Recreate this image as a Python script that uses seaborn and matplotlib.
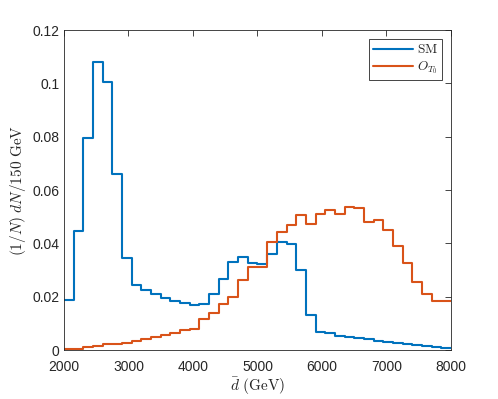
import numpy as np
import pandas as pd
import seaborn as sns
import matplotlib.pyplot as plt

# bin edges (150 GeV bins from 2000 to 8000 GeV)
bin_edges = list(range(2000, 8001, 150))

# normalised counts per bin
sm_values = [0.0188, 0.0448, 0.0796, 0.1080, 0.1005, 0.0659, 0.0346, 0.0244,
             0.0224, 0.0210, 0.0196, 0.0184, 0.0175, 0.0168, 0.0172, 0.0211,
             0.0265, 0.0330, 0.0350, 0.0328, 0.0321, 0.0360, 0.0404, 0.0399,
             0.0301, 0.0132, 0.0067, 0.0062, 0.0054, 0.0049, 0.0044, 0.0040,
             0.0035, 0.0031, 0.0025, 0.0021, 0.0018, 0.0014, 0.0010, 0.0008]
ot0_values = [0.0002, 0.0005, 0.0010, 0.0015, 0.0024, 0.0023, 0.0028, 0.0035,
              0.0040, 0.0050, 0.0056, 0.0065, 0.0076, 0.0079, 0.0115, 0.0138,
              0.0173, 0.0198, 0.0263, 0.0313, 0.0313, 0.0404, 0.0443, 0.0470,
              0.0505, 0.0474, 0.0509, 0.0526, 0.0509, 0.0537, 0.0531, 0.0479,
              0.0488, 0.0449, 0.0390, 0.0328, 0.0256, 0.0210, 0.0185, 0.0185]
series_names = [r'$\mathrm{SM}$', '$O_{T_0}$']
series_colors = ['#0072BD', '#D95319']
x_ticks = [2000, 3000, 4000, 5000, 6000, 7000, 8000]
y_ticks = [0, 0.02, 0.04, 0.06, 0.08, 0.1, 0.12]
y_tick_labels = ['0', '0.02', '0.04', '0.06', '0.08', '0.1', '0.12']

# build long table
centers = [(a + b) / 2 for a, b in zip(bin_edges[:-1], bin_edges[1:])]
df = pd.DataFrame({
    'x': centers * 2,
    'w': sm_values + ot0_values,
    'series': [series_names[0]] * len(centers) + [series_names[1]] * len(centers),
})

sns.set_style('white')
plt.rcParams['font.family'] = ['Liberation Sans', 'DejaVu Sans']
plt.rcParams['mathtext.fontset'] = 'cm'

fig = plt.figure(figsize=(4.98, 3.99), dpi=100)
ax = fig.add_axes([0.1285, 0.1228, 0.7771, 0.802])

for name, color in zip(series_names, series_colors):
    sub = df[df['series'] == name]
    sns.histplot(data=sub, x='x', weights='w', bins=bin_edges,
                 element='step', fill=False, color=color, linewidth=1.5,
                 label=name, ax=ax)

ax.set_xlim(2000, 8000)
ax.set_ylim(0, 0.12)
ax.set_xticks(x_ticks)
ax.set_yticks(y_ticks)
ax.set_yticklabels(y_tick_labels)
ax.tick_params(direction='in', top=True, right=True, length=4,
               labelsize=10, colors='#262626', width=0.6)
ax.tick_params(axis='x', pad=7)
for sp in ax.spines.values():
    sp.set_color('#262626')
    sp.set_linewidth(0.6)

ax.set_xlabel(r'$\bar{d}\ \mathrm{(GeV)}$', fontsize=11, color='#262626', labelpad=1)
ax.set_ylabel(r'$(1/N)\ dN/150\ \mathrm{GeV}$', fontsize=11, color='#262626', labelpad=3)

leg = ax.legend(loc='upper right', fontsize=9.5, fancybox=False, framealpha=1,
                edgecolor='#262626', handlelength=3.0, borderaxespad=0.7,
                borderpad=0.3, labelspacing=0.25, handletextpad=0.3)
leg.get_frame().set_linewidth(0.6)

fig.savefig('out.png', dpi=100)
